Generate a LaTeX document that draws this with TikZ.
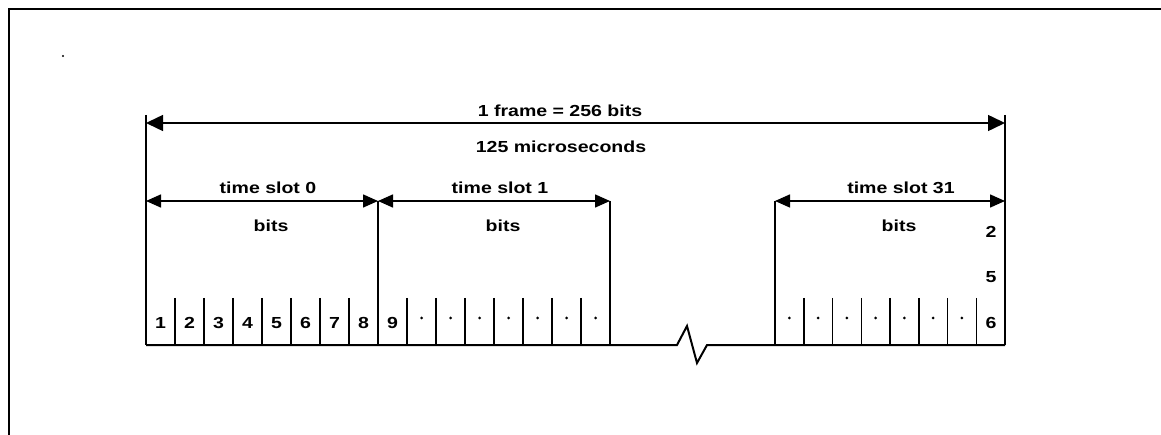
\documentclass[tikz,border=0pt]{standalone}
\usepackage{fontspec}
\newfontfamily\lblfont[FakeStretch=1.22]{Liberation Sans}
\usetikzlibrary{arrows.meta}
\begin{document}
\begin{tikzpicture}[x=1pt,y=-1pt,
  ln/.style={line width=1.5pt},
  outer/.style={line width=2pt},
  frarrow/.style={line width=1.5pt,{Triangle[length=17pt,width=16pt]}-{Triangle[length=17pt,width=16pt]}},
  slarrow/.style={line width=1.5pt,{Triangle[length=15pt,width=13pt]}-{Triangle[length=15pt,width=13pt]}},
  lbl/.style={font=\lblfont\bfseries\fontsize{16}{18}\selectfont, anchor=base, inner sep=0pt},
  celldot/.style={fill=black, draw=none},
]
\useasboundingbox (0,0) rectangle (1161,435);
% outer frame (top and left only)
\coordinate (OB) at (9,435);
\coordinate (OC) at (9,9);
\coordinate (OR) at (1161,9);
\draw[outer] (OB) -- (OC) -- (OR);
\fill (63,56) circle (1.2);
% frame verticals
\coordinate (FLt) at (146,115); \coordinate (FLb) at (146,345);
\coordinate (FRt) at (1005,115); \coordinate (FRb) at (1005,345);
\draw[ln] (FLt) -- (FLb);
\draw[ln] (FRt) -- (FRb);
% frame arrow
\coordinate (FL) at (146,123); \coordinate (FR) at (1005,123);
\draw[frarrow] (FL) -- (FR);
\node[lbl] (frame) at (560,117) {1 frame = 256 bits};
\node[lbl] (micro) at (561,153) {125 microseconds};
% slot boundaries
\coordinate (S1t) at (378,201); \coordinate (S1b) at (378,345);
\coordinate (S2t) at (610,201); \coordinate (S2b) at (610,345);
\coordinate (S3t) at (775,201); \coordinate (S3b) at (775,345);
\draw[ln] (S1t) -- (S1b);
\draw[ln] (S2t) -- (S2b);
\draw[ln] (S3t) -- (S3b);
% slot arrows
\coordinate (A0l) at (146,201); \coordinate (A0r) at (378,201);
\coordinate (A1l) at (378,201); \coordinate (A1r) at (610,201);
\coordinate (A3l) at (775,201); \coordinate (A3r) at (1005,201);
\draw[slarrow] (A0l) -- (A0r);
\draw[slarrow] (A1l) -- (A1r);
\draw[slarrow] (A3l) -- (A3r);
\node[lbl] (ts0) at (268,194) {time slot 0};
\node[lbl] (ts1) at (500,194) {time slot 1};
\node[lbl] (ts31) at (901,194) {time slot 31};
\node[lbl] (b0) at (271,232) {bits};
\node[lbl] (b1) at (503,232) {bits};
\node[lbl] (b31) at (899,232) {bits};
\node[lbl] (n2) at (991,238) {2};
\node[lbl] (n5) at (991,283) {5};
% bottom line with break
\coordinate (B0) at (146,345);
\coordinate (Z1) at (677,345);
\coordinate (Z2) at (687,326);
\coordinate (Z3) at (697,363);
\coordinate (Z4) at (707,345);
\coordinate (B1) at (1005,345);
\draw[line width=2pt, line join=miter] (B0) -- (Z1) -- (Z2) -- (Z3) -- (Z4) -- (B1);
% cells of slot 0
\foreach \k in {1,...,7} {
  \draw[ln] ({146+29*\k},298) -- ({146+29*\k},345);
}
\foreach \k in {1,...,8} {
  \node[lbl] (c0\k) at ({146+29*(\k-0.5)},328) {\k};
}
% cells of slot 1
\foreach \k in {1,...,7} {
  \draw[ln] ({378+29*\k},298) -- ({378+29*\k},345);
}
\node[lbl] (c19) at ({378+14.5},328) {9};
\foreach \k in {2,...,8} {
  \fill[celldot] ({378+29*(\k-0.5)},318) circle (1.5);
}
% cells of slot 31
\foreach \k in {1,...,7} {
  \draw[ln] ({775+28.75*\k},298) -- ({775+28.75*\k},345);
}
\foreach \k in {1,...,7} {
  \fill[celldot] ({775+28.75*(\k-0.5)},318) circle (1.5);
}
\node[lbl] (n6) at (991,328) {6};
\end{tikzpicture}
\end{document}
